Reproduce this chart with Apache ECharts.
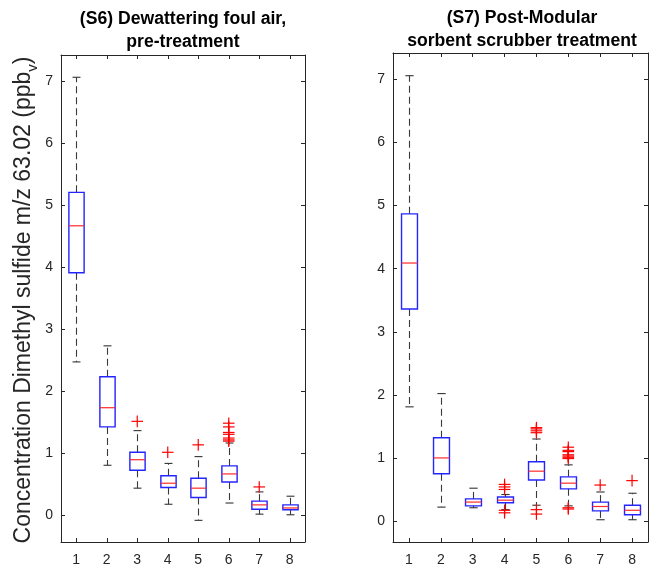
<!DOCTYPE html>
<html><head><meta charset="utf-8">
<script src="https://cdn.jsdelivr.net/npm/echarts@6/dist/echarts.min.js"></script>
<style>html,body{margin:0;padding:0;background:#fff}#c{width:650px;height:569px}</style>
</head><body><div id="c"></div>
<script>
const categories = ['1','2','3','4','5','6','7','8'];
const yTickValues = [0,1,2,3,4,5,6,7];

// (S6) Dewattering foul air, pre-treatment
const s6Low    = [2.47, 0.80, 0.43, 0.17, -0.09, 0.19, 0.01, 0.00];
const s6Q1     = [3.91, 1.42, 0.72, 0.44, 0.28, 0.53, 0.09, 0.08];
const s6Median = [4.67, 1.73, 0.89, 0.51, 0.43, 0.66, 0.16, 0.11];
const s6Q3     = [5.21, 2.23, 1.01, 0.63, 0.59, 0.79, 0.22, 0.16];
const s6High   = [7.07, 2.73, 1.36, 0.83, 0.94, 1.16, 0.37, 0.30];
const s6Outliers = [
  ['3', 1.51], ['4', 1.01], ['5', 1.13],
  ['6', 1.48], ['6', 1.42], ['6', 1.33], ['6', 1.30], ['6', 1.24], ['6', 1.21], ['6', 1.19],
  ['7', 0.45]
];

// (S7) Post-Modular sorbent scrubber treatment
const s7Low    = [1.81, 0.22, 0.21, 0.18, 0.25, 0.24, 0.02, 0.02];
const s7Q1     = [3.36, 0.75, 0.24, 0.29, 0.65, 0.51, 0.16, 0.10];
const s7Median = [4.09, 1.00, 0.30, 0.33, 0.79, 0.60, 0.23, 0.17];
const s7Q3     = [4.87, 1.32, 0.35, 0.38, 0.94, 0.70, 0.30, 0.25];
const s7High   = [7.06, 2.02, 0.52, 0.42, 1.30, 0.89, 0.46, 0.44];
const s7Outliers = [
  ['4', 0.58], ['4', 0.54], ['4', 0.50], ['4', 0.17], ['4', 0.13],
  ['5', 1.48], ['5', 1.46], ['5', 1.43], ['5', 1.40], ['5', 0.18], ['5', 0.11],
  ['6', 1.17], ['6', 1.12], ['6', 1.10], ['6', 1.05], ['6', 1.03], ['6', 1.01], ['6', 0.99], ['6', 0.21], ['6', 0.19],
  ['7', 0.57], ['8', 0.64]
];

const FONT = "'Liberation Sans', Arial, Helvetica, sans-serif";
const AX = '#262626';

function boxData(lo, q1, md, q3, hi) {
  return categories.map((c, i) => [c, lo[i], q1[i], md[i], q3[i], hi[i]]);
}

function renderBox(params, api) {
  const x = api.value(0);
  const lo = api.coord([x, api.value(1)]);
  const q1 = api.coord([x, api.value(2)]);
  const md = api.coord([x, api.value(3)]);
  const q3 = api.coord([x, api.value(4)]);
  const hi = api.coord([x, api.value(5)]);
  const band = api.size([1, 0])[0];
  const hw = band * 0.25, cw = band * 0.13;
  const cx = Math.round(lo[0]) + 0.5;
  const dash = { stroke: '#3a3a3a', lineWidth: 1.1, lineDash: [7, 4] };
  const solid = { stroke: '#333', lineWidth: 1.1 };
  return { type: 'group', children: [
    { type: 'line', shape: { x1: cx, y1: q3[1], x2: cx, y2: hi[1] }, style: dash },
    { type: 'line', shape: { x1: cx, y1: q1[1], x2: cx, y2: lo[1] }, style: dash },
    { type: 'line', shape: { x1: cx - cw, y1: hi[1], x2: cx + cw, y2: hi[1] }, style: solid },
    { type: 'line', shape: { x1: cx - cw, y1: lo[1], x2: cx + cw, y2: lo[1] }, style: solid },
    { type: 'rect', shape: { x: cx - hw, y: q3[1], width: 2 * hw, height: q1[1] - q3[1] },
      style: { fill: 'none', stroke: '#2424ff', lineWidth: 1.4 } },
    { type: 'line', shape: { x1: cx - hw, y1: md[1], x2: cx + hw, y2: md[1] },
      style: { stroke: '#ff2a2a', lineWidth: 1.2 } }
  ]};
}

function renderPlus(params, api) {
  const p = api.coord([api.value(0), api.value(1)]);
  const s = 5.8;
  const st = { stroke: '#ff0000', lineWidth: 1.2 };
  return { type: 'group', children: [
    { type: 'line', shape: { x1: p[0] - s, y1: p[1], x2: p[0] + s, y2: p[1] }, style: st },
    { type: 'line', shape: { x1: p[0], y1: p[1] - s, x2: p[0], y2: p[1] + s }, style: st }
  ]};
}

function xAxes(gridIndex) {
  const base = {
    type: 'category', data: categories, gridIndex, boundaryGap: true,
    axisLine: { show: true, onZero: false, lineStyle: { color: AX, width: 1 } },
    axisTick: { show: true, inside: true, length: 4, alignWithLabel: true, lineStyle: { color: AX } },
    splitLine: { show: false }
  };
  return [
    Object.assign({}, base, { position: 'bottom',
      axisLabel: { show: true, margin: 11, fontSize: 14, color: AX, fontFamily: FONT } }),
    Object.assign({}, base, { position: 'top', axisLabel: { show: false } })
  ];
}

function yAxes(gridIndex, min, max) {
  const base = {
    type: 'value', gridIndex, min, max,
    axisLine: { show: true, onZero: false, lineStyle: { color: AX, width: 1 } },
    axisTick: { show: true, inside: true, length: 4, customValues: yTickValues, lineStyle: { color: AX } },
    splitLine: { show: false }
  };
  return [
    Object.assign({}, base, { position: 'left',
      axisLabel: { show: true, margin: 8, fontSize: 14, color: AX, fontFamily: FONT, customValues: yTickValues } }),
    Object.assign({}, base, { position: 'right', axisLabel: { show: false } })
  ];
}

const chart = echarts.init(document.getElementById('c'), null, { renderer: 'canvas' });
chart.setOption({
  backgroundColor: '#fff',
  animation: false,
  grid: [
    { left: 61, top: 55, width: 244, height: 487 },
    { left: 393, top: 53, width: 255, height: 489 }
  ],
  xAxis: [].concat(xAxes(0), xAxes(1)),
  yAxis: [].concat(yAxes(0, -0.44, 7.43), yAxes(1, -0.333, 7.42)),
  series: [
    { type: 'custom', xAxisIndex: 0, yAxisIndex: 0, renderItem: renderBox,
      encode: { x: 0, y: [1, 2, 3, 4, 5] }, data: boxData(s6Low, s6Q1, s6Median, s6Q3, s6High) },
    { type: 'custom', xAxisIndex: 0, yAxisIndex: 0, renderItem: renderPlus,
      encode: { x: 0, y: 1 }, data: s6Outliers },
    { type: 'custom', xAxisIndex: 2, yAxisIndex: 2, renderItem: renderBox,
      encode: { x: 0, y: [1, 2, 3, 4, 5] }, data: boxData(s7Low, s7Q1, s7Median, s7Q3, s7High) },
    { type: 'custom', xAxisIndex: 2, yAxisIndex: 2, renderItem: renderPlus,
      encode: { x: 0, y: 1 }, data: s7Outliers }
  ],
  graphic: [
    { type: 'text', x: 183, y: 8, style: { text: '(S6) Dewattering foul air,\npre-treatment',
      font: 'bold 17.6px ' + FONT, fill: '#000', align: 'center', lineHeight: 23 } },
    { type: 'text', x: 522, y: 7, style: { text: '(S7) Post-Modular\nsorbent scrubber treatment',
      font: 'bold 17.6px ' + FONT, fill: '#000', align: 'center', lineHeight: 23 } },
    { type: 'text', x: 24, y: 300, rotation: Math.PI / 2,
      style: { text: 'Concentration Dimethyl sulfide m/z 63.02 (ppb{s|v})',
        font: '23px ' + FONT, fill: AX, align: 'center', verticalAlign: 'middle', lineHeight: 32,
        rich: { s: { fontSize: 15, fontFamily: FONT, lineHeight: 15, verticalAlign: 'bottom', fill: AX } } } }
  ]
});
</script></body></html>
